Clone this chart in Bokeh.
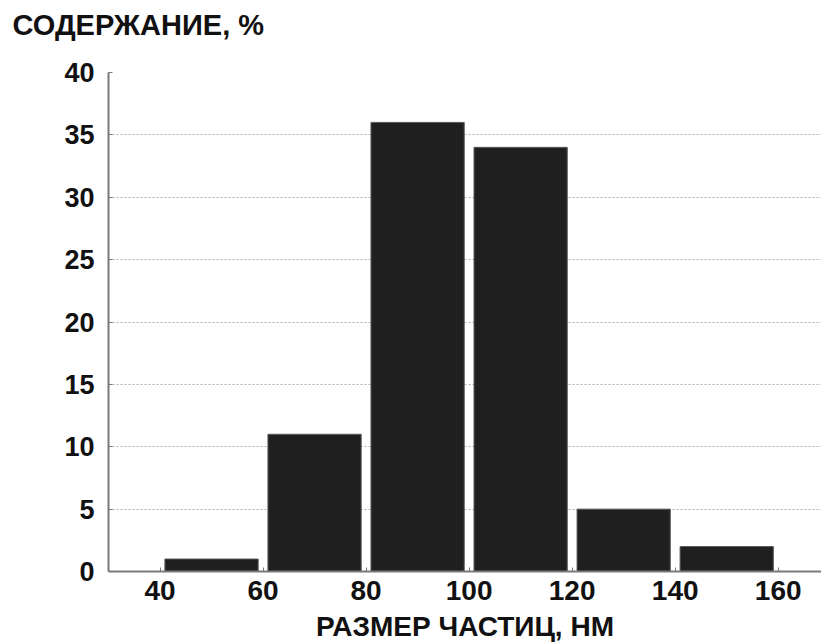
from bokeh.plotting import figure
from bokeh.models import Range1d, FixedTicker, Title, ColumnDataSource
from bokeh.embed import file_html
from bokeh.resources import INLINE

bin_left = [40, 60, 80, 100, 120, 140]
bin_right = [60, 80, 100, 120, 140, 160]
content = [1, 11, 36, 34, 5, 2]
x_ticks = [40, 60, 80, 100, 120, 140, 160]
y_ticks = [0, 5, 10, 15, 20, 25, 30, 35, 40]
y_title = "СОДЕРЖАНИЕ, %"
x_title = "РАЗМЕР ЧАСТИЦ, НМ"

gap = 0.95
src = ColumnDataSource(dict(
    left=[a + gap for a in bin_left],
    right=[b - gap for b in bin_right],
    top=content,
    bottom=[0] * len(content),
))

p = figure(width=821, height=644, output_backend="svg", toolbar_location=None,
           x_range=Range1d(30, 168.4), y_range=Range1d(0, 40),
           min_border_left=108, min_border_right=0, min_border_top=70, min_border_bottom=72)
p.outline_line_color = None
p.background_fill_color = "white"
p.border_fill_color = "white"

p.quad(left="left", right="right", top="top", bottom="bottom", source=src,
       fill_color="#1f1f1f", line_color="#5a5a5a", line_width=1)

font = "Liberation Sans"
p.title = Title(text=y_title + "\n ", align="left", offset=-96,
                text_font=font, text_font_size="29px", text_font_style="bold",
                text_color="#111111", standoff=12, text_line_height=0.8)

p.xaxis.ticker = FixedTicker(ticks=x_ticks)
p.yaxis.ticker = FixedTicker(ticks=y_ticks)
p.xaxis.axis_label = x_title
p.xaxis.axis_label_text_font = font
p.xaxis.axis_label_text_font_size = "28px"
p.xaxis.axis_label_text_font_style = "bold"
p.xaxis.axis_label_text_color = "#111111"
p.xaxis.axis_label_standoff = 8
for ax in (p.xaxis, p.yaxis):
    ax.major_label_text_font = font
    ax.major_label_text_font_style = "bold"
    ax.major_label_text_color = "#111111"
    ax.axis_line_color = "#7a7a7a"
    ax.axis_line_width = 2
    ax.major_tick_in = 4
    ax.major_tick_out = 0
    ax.major_tick_line_color = "#7a7a7a"
    ax.minor_tick_line_color = None
p.xaxis.major_label_text_font_size = "28px"
p.yaxis.major_label_text_font_size = "27px"
p.xaxis.major_label_standoff = 9
p.yaxis.major_label_standoff = 14

p.xgrid.grid_line_color = None
p.ygrid.grid_line_color = "#b0b0b0"
p.ygrid.grid_line_dash = "2 2"
p.ygrid.grid_line_width = 1

open("out.html", "w").write(file_html(p, INLINE))
